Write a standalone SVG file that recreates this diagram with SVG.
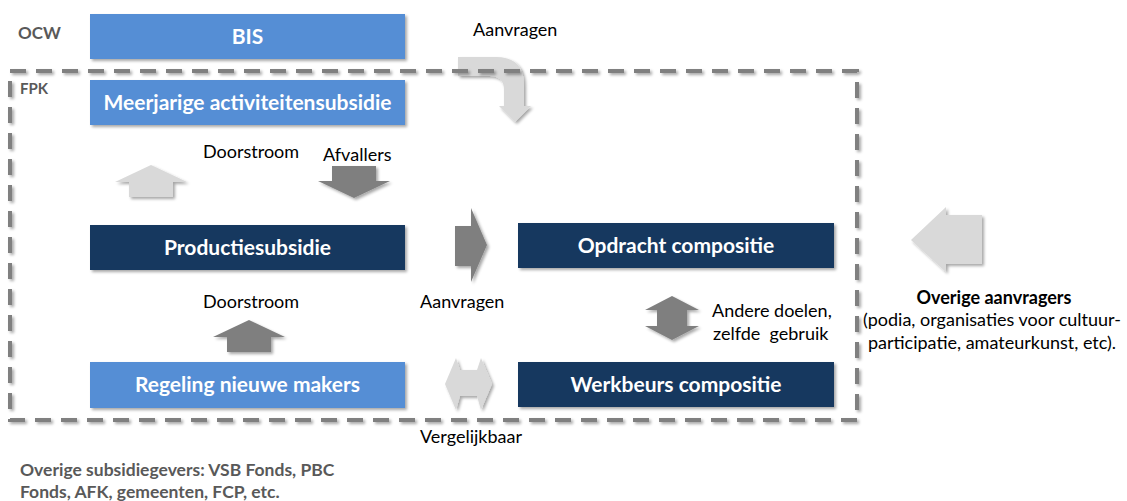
<svg xmlns="http://www.w3.org/2000/svg" width="1127" height="501" viewBox="0 0 1127 501">
<defs>
<filter id="sh" x="-10%" y="-10%" width="130%" height="140%">
<feGaussianBlur in="SourceAlpha" stdDeviation="1.5"/>
<feOffset dx="1.5" dy="2" result="b"/>
<feComponentTransfer><feFuncA type="linear" slope="0.35"/></feComponentTransfer>
<feMerge><feMergeNode/><feMergeNode in="SourceGraphic"/></feMerge>
</filter>
<style>
.light{fill:#558ed5;filter:url(#sh)}
.dark{fill:#17375e;filter:url(#sh)}
.bt{font-family:Lato,"Open Sans",sans-serif;font-weight:bold;font-size:21px;fill:#fff;text-anchor:middle}
.lbl{font-family:Lato,"Open Sans",sans-serif;font-size:18px;fill:#000}
.gl{font-family:Lato,"Open Sans",sans-serif;font-weight:bold;fill:#595959}
.la{fill:#d9d9d9;filter:url(#sh)}
.da{fill:#7f7f7f;filter:url(#sh)}
</style>
</defs>
<rect width="1127" height="501" fill="#fff"/>
<g id="connectors">
<path class="la" d="M458,57 L496,57 Q524,57 524,85 L524,106 L531,106 L515,122 L499,106 L504,106 L504,90 Q504,76 490,76 L458,76 Z"/>
<text class="lbl" x="473" y="36">Aanvragen</text>
<path class="la" d="M151,165 L187,182 L173,182 L173,197 L129,197 L129,182 L115,182 Z"/>
<text class="lbl" x="203" y="158">Doorstroom</text>
<path class="da" d="M354,198 L390,181 L376,181 L376,166 L332,166 L332,181 L318,181 Z"/>
<text class="lbl" x="323" y="161">Afvallers</text>
<path class="da" d="M455,226 L471,226 L471,208 L487,245 L471,282 L471,266 L455,266 Z"/>
<text class="lbl" x="420" y="308">Aanvragen</text>
<path class="da" d="M249,320 L285,337 L271,337 L271,352 L227,352 L227,337 L213,337 Z"/>
<text class="lbl" x="203" y="308">Doorstroom</text>
<path class="da" d="M672,296 L699,310 L687,310 L687,326 L699,326 L672,340 L645,326 L657,326 L657,310 L645,310 Z"/>
<text class="lbl" x="712" y="317">Andere doelen,</text>
<text class="lbl" x="713" y="340" xml:space="preserve" style="white-space:pre">zelfde  gebruik</text>
<path class="la" d="M445,384 L456,358 L460,370 L477,370 L481,358 L492,384 L481,410 L477,396 L460,396 L456,410 Z"/>
<text class="lbl" x="420" y="443">Vergelijkbaar</text>
<path class="la" d="M911,240 L946,207 L946,215 L982,215 L982,264 L946,264 L946,272 Z"/>
</g>
<g id="frame">
<rect x="10" y="71" width="847" height="349" fill="none" stroke="#808080" stroke-width="4" stroke-dasharray="16,10" filter="url(#sh)"/>
</g>
<g id="labels">
<text class="gl" x="18" y="39" font-size="17">OCW</text>
<text class="gl" x="20" y="94" font-size="15">FPK</text>
</g>
<g id="bis"><rect class="light" x="90" y="14" width="315" height="45"/><text class="bt" x="247.5" y="44">BIS</text></g>
<g id="meerjarige"><rect class="light" x="90" y="80" width="315" height="45"/><text class="bt" x="247.5" y="110">Meerjarige activiteitensubsidie</text></g>
<g id="productie"><rect class="dark" x="90" y="225" width="315" height="45"/><text class="bt" x="247.5" y="255">Productiesubsidie</text></g>
<g id="regeling"><rect class="light" x="90" y="362" width="315" height="46"/><text class="bt" x="247.5" y="392">Regeling nieuwe makers</text></g>
<g id="opdracht"><rect class="dark" x="518" y="223" width="316" height="45"/><text class="bt" x="676" y="253">Opdracht compositie</text></g>
<g id="werkbeurs"><rect class="dark" x="518" y="362" width="316" height="45"/><text class="bt" x="676" y="392">Werkbeurs compositie</text></g>
<g id="overige">
<text class="lbl" x="994" y="304" text-anchor="middle" font-weight="bold">Overige aanvragers</text>
<text class="lbl" x="992" y="326" text-anchor="middle">(podia, organisaties voor cultuur-</text>
<text class="lbl" x="992" y="349" text-anchor="middle">participatie, amateurkunst, etc).</text>
</g>
<g id="overige-subsidiegevers">
<text class="gl" x="20" y="476" font-size="17.5">Overige subsidiegevers: VSB Fonds, PBC</text>
<text class="gl" x="20" y="498" font-size="17.5">Fonds, AFK, gemeenten, FCP, etc.</text>
</g>
</svg>
